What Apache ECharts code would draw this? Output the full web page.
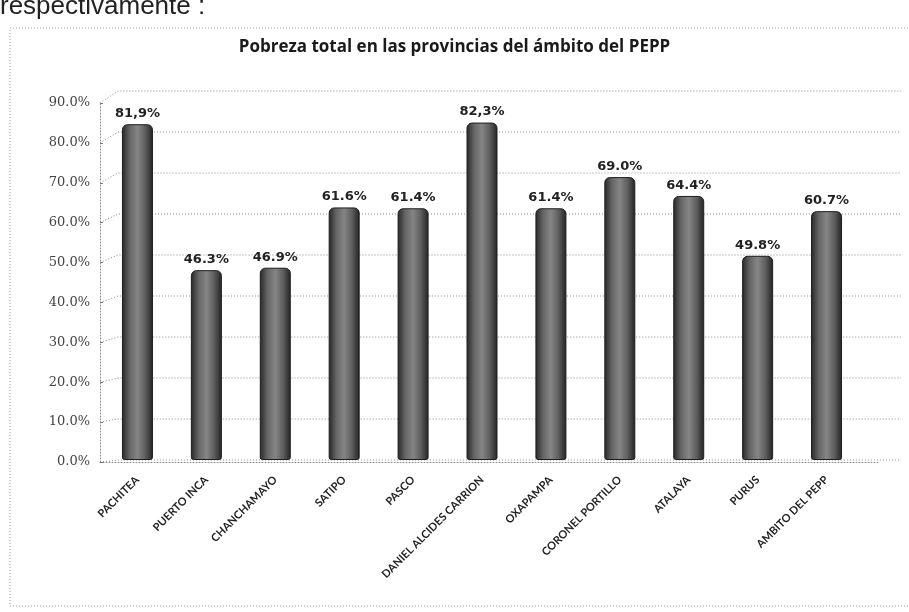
<!DOCTYPE html>
<html>
<head>
<meta charset="utf-8">
<script src="https://cdn.jsdelivr.net/npm/echarts@6/dist/echarts.min.js"></script>
<style>
  html, body { margin: 0; padding: 0; background: #fff; }
  #chart { width: 909px; height: 612px; }
</style>
</head>
<body>
<div id="chart"></div>
<script>
// Provinces and total poverty rate (%)
const provincias = [
  'PACHITEA', 'PUERTO INCA', 'CHANCHAMAYO', 'SATIPO', 'PASCO',
  'DANIEL ALCIDES CARRION', 'OXAPAMPA', 'CORONEL PORTILLO', 'ATALAYA',
  'PURUS', 'AMBITO DEL PEPP'
];
const pobreza = [81.9, 46.3, 46.9, 61.6, 61.4, 82.3, 61.4, 69.0, 64.4, 49.8, 60.7];
const etiquetas = ['81,9%', '46.3%', '46.9%', '61.6%', '61.4%', '82,3%', '61.4%', '69.0%', '64.4%', '49.8%', '60.7%'];
const ticks = [0, 10, 20, 30, 40, 50, 60, 70, 80, 90];

// Layout: back wall (bars) and front plane (value axis) of the pseudo-3D box
const WALL = { left: 103, right: 48, top: 91, bottom: 152 };
const FRONT = { left: 100, right: 30, top: 103, bottom: 150 };
const CHART_W = 909;
const CHART_H = 612;
const AXIS_MAX = 90;
const DEPTH = 18;

const dotted = { color: '#8a8a8a', width: 1, type: [1, 2] };

const chart = echarts.init(document.getElementById('chart'));

chart.setOption({
  backgroundColor: '#fff',
  animation: false,
  title: {
    text: 'Pobreza total en las provincias del ámbito del PEPP',
    left: 'center',
    top: 34,
    textStyle: { fontFamily: 'Open Sans', fontWeight: 'bold', fontSize: 17, color: '#1a1a1a' }
  },
  graphic: [
    {
      type: 'text',
      left: 0,
      top: -6,
      style: { text: 'respectivamente :', font: '26px "Liberation Sans"', fill: '#222' }
    },
    {
      type: 'rect',
      shape: { x: 10, y: 28, width: 940, height: 578 },
      style: { fill: 'none', stroke: '#9a9a9a', lineWidth: 1, lineDash: [1, 2] },
      silent: true
    }
  ],
  grid: [
    { left: WALL.left, right: WALL.right, top: WALL.top, bottom: WALL.bottom },
    { left: FRONT.left, right: FRONT.right, top: FRONT.top, bottom: FRONT.bottom }
  ],
  xAxis: [
    {
      type: 'category',
      gridIndex: 0,
      data: provincias,
      offset: 2,
      axisLine: { show: false },
      axisTick: { show: false },
      axisLabel: {
        rotate: 45,
        margin: 16,
        interval: 0,
        fontFamily: 'Lato',
        fontWeight: 'bold',
        fontSize: 11,
        color: '#222'
      }
    },
    {
      type: 'category',
      gridIndex: 1,
      data: provincias,
      axisLine: { show: true, lineStyle: dotted },
      axisTick: { show: false },
      axisLabel: { show: false }
    }
  ],
  yAxis: [
    {
      type: 'value',
      gridIndex: 0,
      min: 0,
      max: AXIS_MAX,
      interval: 10,
      axisLine: { show: false },
      axisTick: { show: false },
      axisLabel: { show: false },
      splitLine: { show: false }
    },
    {
      type: 'value',
      gridIndex: 1,
      min: 0,
      max: AXIS_MAX,
      interval: 10,
      axisLine: { show: true, lineStyle: dotted },
      axisTick: { show: true, length: 3, inside: true, lineStyle: { color: '#777' } },
      splitLine: { show: false },
      axisLabel: {
        margin: 10,
        fontFamily: 'DejaVu Serif',
        fontSize: 13,
        color: '#444',
        formatter: v => v.toFixed(1) + '%'
      }
    }
  ],
  series: [
    {
      // back-wall gridlines with perspective connectors to the front value axis
      type: 'custom',
      xAxisIndex: 0,
      yAxisIndex: 0,
      silent: true,
      z: 1,
      data: ticks.map(v => [0, v]),
      renderItem: (params, api) => {
        const v = api.value(1);
        const yWall = api.coord([0, v])[1];
        const frontH = CHART_H - FRONT.top - FRONT.bottom;
        const yFront = FRONT.top + (AXIS_MAX - v) / AXIS_MAX * frontH;
        const xWall = FRONT.left + DEPTH;
        return {
          type: 'polyline',
          shape: { points: [[FRONT.left, yFront], [xWall, yWall], [CHART_W - 8, yWall]] },
          style: { fill: null, stroke: '#8a8a8a', lineWidth: 1, lineDash: [1, 2] }
        };
      }
    },
    {
      type: 'bar',
      xAxisIndex: 0,
      yAxisIndex: 0,
      data: pobreza,
      barWidth: 31,
      z: 3,
      itemStyle: {
        borderRadius: [5, 5, 2, 2],
        borderColor: '#1e1e1e',
        borderWidth: 1,
        color: {
          type: 'linear', x: 0, y: 0, x2: 1, y2: 0,
          colorStops: [
            { offset: 0, color: '#262626' },
            { offset: 0.25, color: '#666' },
            { offset: 0.5, color: '#858585' },
            { offset: 0.75, color: '#5e5e5e' },
            { offset: 1, color: '#222' }
          ]
        }
      },
      label: {
        show: true,
        position: 'top',
        distance: 4,
        fontFamily: 'DejaVu Sans',
        fontWeight: 'bold',
        fontSize: 13,
        color: '#222',
        formatter: p => etiquetas[p.dataIndex]
      }
    }
  ]
});
</script>
</body>
</html>
